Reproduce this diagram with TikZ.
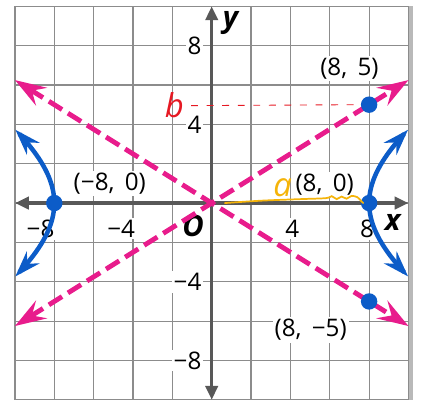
\documentclass[tikz,border=0pt]{standalone}
\usepackage{fontspec}
\setmainfont{Open Sans}
\usetikzlibrary{arrows.meta}
\definecolor{hypblue}{RGB}{12,92,200}
\definecolor{asymink}{RGB}{232,28,140}
\definecolor{axisgray}{RGB}{88,88,88}
\definecolor{gridgray}{RGB}{140,140,140}
\definecolor{penorange}{RGB}{245,180,10}
\definecolor{penred}{RGB}{230,25,35}

\begin{document}
\begin{tikzpicture}[x=0.4cm,y=0.4cm,
tick/.style={fill=white,inner sep=1.2pt,font=\fontsize{14}{14}\selectfont},
axislbl/.style={inner sep=0pt,font=\fontsize{17}{17}\selectfont\bfseries\itshape},
dot/.style={circle,fill=hypblue,inner sep=0pt,minimum size=9.5pt},
asym/.style={asymink,line width=2.8pt,dash pattern=on 9pt off 4pt,{Stealth[length=18pt,width=12pt,inset=6.5pt]}-{Stealth[length=18pt,width=12pt,inset=6.5pt]}},
hyp/.style={hypblue,line width=2.6pt,{Stealth[length=15pt,width=10pt,inset=5pt]}-{Stealth[length=15pt,width=10pt,inset=5pt]}},
ax/.style={axisgray,line width=2pt,{Triangle[length=8pt,width=7pt]}-{Triangle[length=8pt,width=7pt]}},
hand/.style={inner sep=0pt,font=\fontsize{19}{19}\selectfont\itshape}]
\useasboundingbox (-10.76,-10.09) rectangle (10.84,10.32);
\draw[gridgray,line width=0.7pt,step=2](-10,-10) grid (10,10);
\draw[gray!55,line width=2pt](10.12,10)--(10.12,-10);
\node[tick,anchor=east] (y8) at (-0.4,8) {8};
\node[tick,anchor=east] (y4) at (-0.4,4) {4};
\node[tick,anchor=east] (ym4) at (-0.4,-4) {−4};
\node[tick,anchor=east] (ym8) at (-0.4,-8) {−8};
\node[tick] (x4) at (4.1,-1.3) {4};
\node[tick] (x8) at (7.9,-1.3) {8};
\node[tick] (xm4) at (-4.6,-1.3) {−4};
\node[tick] (xm8) at (-8.7,-1.3) {−8};
\node[tick] (l85) at (7.0,6.85) {(8,\, 5)};
\node[tick] (l80) at (5.74,0.93) {(8,\, 0)};
\node[tick] (lm80) at (-5.18,1.0) {(−8,\, 0)};
\node[tick] (l8m5) at (5.03,-6.45) {(8,\, −5)};
\node[axislbl] (orig) at (-0.95,-1.15) {O};
\node[axislbl] (xlbl) at (9.2,-1.0) {x};
\node[axislbl] (ylbl) at (0.95,9.15) {y};
\draw[ax](-10,0)--(10,0);
\draw[ax](0,-10)--(0,10);
\draw[asym](-10,-6.25)--(10,6.25);
\draw[asym](-10,6.25)--(10,-6.25);
\draw[hyp] plot[domain=-0.69:0.69,samples=40]({8*cosh(\x)},{5*sinh(\x)});
\draw[hyp] plot[domain=-0.69:0.69,samples=40]({-8*cosh(\x)},{5*sinh(\x)});
\node[dot] (p85) at (8,5) {};
\node[dot] (p80) at (8,0) {};
\node[dot] (pm80) at (-8,0) {};
\node[dot] (p8m5) at (8,-5) {};
\node[hand,text=penred] (bmark) at (-1.9,4.95) {b};
\node[hand,text=penorange] (amark) at (3.6,0.76) {a};
\draw[penred,line width=0.5pt,dash pattern=on 4pt off 5pt,shorten <=4pt](bmark.east)--(p85.west);
\draw[penorange,line width=1pt,line cap=round] plot[smooth,tension=0.6] coordinates {(0.67,0) (2.5,0.12) (4.5,0.2) (5.8,0.25) (6.1,0.35) (6.35,0.2) (6.6,0.33) (6.85,0.22) (7.1,0.36) (7.4,0.3) (7.6,0.1) (7.7,0)};
\end{tikzpicture}
\end{document}
